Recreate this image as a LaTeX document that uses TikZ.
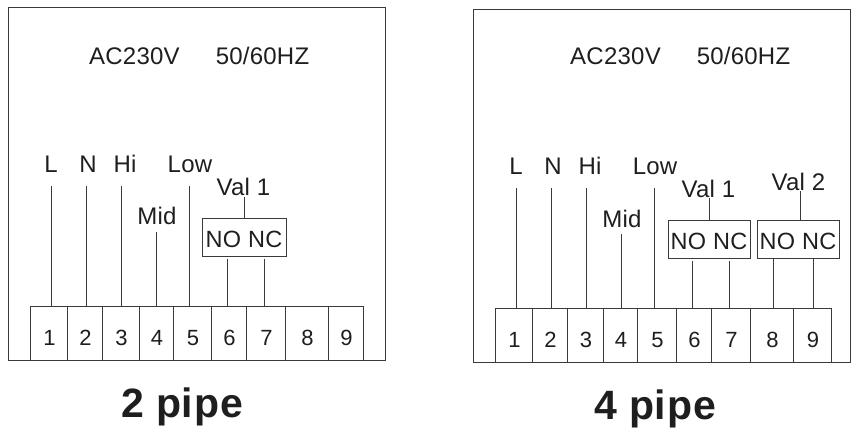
\documentclass[tikz,border=0pt]{standalone}
\usepackage{fontspec}
\setmainfont{Liberation Sans}
\newfontfamily\tagfont[LetterSpace=1]{Liberation Sans}
\newfontfamily\titlefont[LetterSpace=2]{Liberation Sans}

\tikzset{
    panel/.style = {draw=linecol, line width=1pt, minimum width=#1, minimum height=353pt, inner sep=0pt, outer sep=0pt},
    cell/.style = {draw=linecol, line width=1pt, minimum width=#1, minimum height=54pt, inner sep=0pt, outer sep=0pt,
                   text height=25pt, text depth=0pt, text=textcol, font=\fontsize{22}{24}\selectfont,
                   execute at begin node=\hspace*{2pt}},
    tag/.style = {inner sep=0pt, text=textcol, font=\fontsize{24}{26}\tagfont},
    relay/.style = {draw=linecol, line width=1pt, minimum width=#1, minimum height=38pt, inner sep=0pt, outer sep=0pt,
                    text height=21pt, text depth=0pt, text=textcol, font=\fontsize{23.5}{25}\tagfont},
    wire/.style = {draw=linecol, line width=0.9pt},
    title/.style = {inner sep=0pt, text=textcol, font=\fontsize{41}{45}\titlefont\bfseries},
}
\definecolor{linecol}{HTML}{3A3A3A}
\definecolor{textcol}{HTML}{1E1E1E}

\begin{document}
\begin{tikzpicture}[x=1pt,y=-1pt]

    \useasboundingbox (0,0) rectangle (855,445);

    % left board
    \path   (196.5,183.5) node (pa) [panel=377pt] {}
            (134.5,56) node (aca) [tag] {AC230V}
            (262.5,56) node (hza) [tag] {50/60HZ}
            (182,407) node (pipea) [title] {2 pipe}
            (51,164) node (la) [tag] {L}
            (88,164) node (na) [tag] {N}
            (125,164) node (hia) [tag] {Hi}
            (157,216) node (mida) [tag] {Mid}
            (190,164) node (lowa) [tag] {Low}
            (243.5,187) node (vala) [tag] {Val 1}
            (244,237) node (boxa) [relay=84pt] {NO\hspace{7pt}NC};

    \path   (48.5,333) node (a1) [cell=37pt] {1}
            (84.5,333) node (a2) [cell=35pt] {2}
            (120.5,333) node (a3) [cell=37pt] {3}
            (156,333) node (a4) [cell=34pt] {4}
            (192,333) node (a5) [cell=38pt] {5}
            (228.5,333) node (a6) [cell=35pt] {6}
            (265.5,333) node (a7) [cell=39pt] {7}
            (306.5,333) node (a8) [cell=43pt] {8}
            (345.5,333) node (a9) [cell=35pt] {9};

    \coordinate (w1) at (51,186);
    \coordinate (w2) at (86,186);
    \coordinate (w3) at (121,186);
    \coordinate (w4) at (156,232);
    \coordinate (w5) at (189,186);
    \coordinate (w6) at (227,259);
    \coordinate (w7) at (264,259);
    \coordinate (v1) at (244,197);

    \draw[wire] (w1) -- (w1 |- a1.north);
    \draw[wire] (w2) -- (w2 |- a2.north);
    \draw[wire] (w3) -- (w3 |- a3.north);
    \draw[wire] (w4) -- (w4 |- a4.north);
    \draw[wire] (w5) -- (w5 |- a5.north);
    \draw[wire] (w6) -- (w6 |- a6.north);
    \draw[wire] (w7) -- (w7 |- a7.north);
    \draw[wire] (v1) -- (boxa.north);

    % right board
    \path   (661.5,185.5) node (pb) [panel=377pt] {}
            (615.5,56) node (acb) [tag] {AC230V}
            (743.5,56) node (hzb) [tag] {50/60HZ}
            (655,409) node (pipeb) [title] {4 pipe}
            (516,166) node (lb) [tag] {L}
            (553,166) node (nb) [tag] {N}
            (590,166) node (hib) [tag] {Hi}
            (622,219) node (midb) [tag] {Mid}
            (655,166) node (lowb) [tag] {Low}
            (708.5,189) node (valb) [tag] {Val 1}
            (798.5,182) node (valc) [tag] {Val 2}
            (709,239) node (boxb) [relay=82pt] {NO\hspace{7pt}NC}
            (798,239) node (boxc) [relay=82pt] {NO\hspace{7pt}NC};

    \path   (513.5,335) node (b1) [cell=37pt] {1}
            (549.5,335) node (b2) [cell=35pt] {2}
            (585,335) node (b3) [cell=36pt] {3}
            (620,335) node (b4) [cell=34pt] {4}
            (656.5,335) node (b5) [cell=39pt] {5}
            (693.5,335) node (b6) [cell=35pt] {6}
            (730.5,335) node (b7) [cell=39pt] {7}
            (771.5,335) node (b8) [cell=43pt] {8}
            (812,335) node (b9) [cell=38pt] {9};

    \coordinate (x1) at (516,188);
    \coordinate (x2) at (551,188);
    \coordinate (x3) at (586,188);
    \coordinate (x4) at (621,234);
    \coordinate (x5) at (654.5,188);
    \coordinate (x6) at (692,261);
    \coordinate (x7) at (729,261);
    \coordinate (x8) at (773,258);
    \coordinate (x9) at (813,258);
    \coordinate (v2) at (709,198);
    \coordinate (v3) at (800,191);

    \draw[wire] (x1) -- (x1 |- b1.north);
    \draw[wire] (x2) -- (x2 |- b2.north);
    \draw[wire] (x3) -- (x3 |- b3.north);
    \draw[wire] (x4) -- (x4 |- b4.north);
    \draw[wire] (x5) -- (x5 |- b5.north);
    \draw[wire] (x6) -- (x6 |- b6.north);
    \draw[wire] (x7) -- (x7 |- b7.north);
    \draw[wire] (x8) -- (x8 |- b8.north);
    \draw[wire] (x9) -- (x9 |- b9.north);
    \draw[wire] (v2) -- (v2 |- boxb.north);
    \draw[wire] (v3) -- (v3 |- boxc.north);

\end{tikzpicture}
\end{document}
